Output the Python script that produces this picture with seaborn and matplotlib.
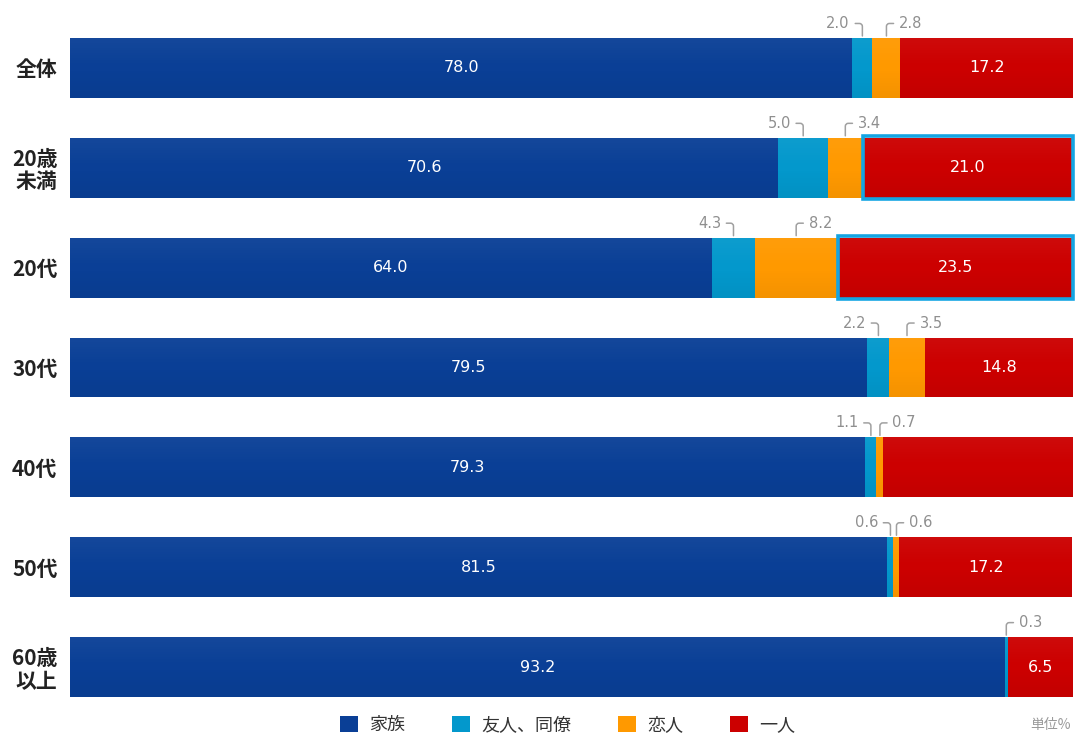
import numpy as np
import pandas as pd
import matplotlib.pyplot as plt
import seaborn as sns
from matplotlib.patches import Rectangle, Patch

## data (unit: %)
groups = ["全体", "20歳\n未満", "20代", "30代", "40代", "50代", "60歳\n以上"]
kazoku = [78.0, 70.6, 64.0, 79.5, 79.3, 81.5, 93.2]
yujin = [2.0, 5.0, 4.3, 2.2, 1.1, 0.6, 0.3]
koibito = [2.8, 3.4, 8.2, 3.5, 0.7, 0.6, 0.0]
hitori = [17.2, 21.0, 23.5, 14.8, 18.9, 17.2, 6.5]
hitori_label = ["17.2", "21.0", "23.5", "14.8", "", "17.2", "6.5"]
highlight = ["20歳\n未満", "20代"]
series = ["家族", "友人、同僚", "恋人", "一人"]
colors = ["#0a3f96", "#0398cc", "#ff9900", "#cc0000"]

df = pd.DataFrame({"group": groups, "家族": kazoku, "友人": yujin, "恋人": koibito, "一人": hitori})
df["c1"] = df["家族"]
df["c2"] = df["c1"] + df["友人"]
df["c3"] = df["c2"] + df["恋人"]
df["c4"] = df["c3"] + df["一人"]

sns.set_theme(style="white")
plt.rcParams['font.family'] = ['Noto Sans CJK JP', 'DejaVu Sans']

fig = plt.figure(figsize=(10.77, 7.38), dpi=100)
ax = fig.add_axes([70/1077, 21/738, 1003/1077, 699/738])

# stacked bars: draw cumulative totals from the longest to the shortest
for col, color in zip(["c4", "c3", "c2", "c1"], colors[::-1]):
    sns.barplot(data=df, x=col, y="group", color=color, orient="h", width=0.6,
                saturation=1, edgecolor="none", ax=ax)

# soft vertical shading on each bar (light top, darker bottom)
shade = np.zeros((40, 1, 4))
t = np.linspace(0, 1, 40)
shade[:, 0, :3] = np.where(t[:, None] < 0.5, 1.0, 0.0)
shade[:, 0, 3] = np.abs(t - 0.5) * 0.09
for i, row in df.iterrows():
    ax.imshow(shade, extent=(0, row["c4"], i + 0.3, i - 0.3), aspect="auto",
              zorder=3, interpolation="bilinear")

ax.set_xlim(0, 100)
ax.set_ylim(6.5, -0.5)
ax.set_xlabel("")
ax.set_ylabel("")
ax.set_xticks([])
sns.despine(ax=ax, left=True, bottom=True)
ax.tick_params(axis="y", length=0, pad=9)
for lab in ax.get_yticklabels():
    lab.set_fontsize(15)
    lab.set_fontweight("bold")
    lab.set_color("#222222")
    lab.set_linespacing(1.1)

gray = "#8f8f8f"

def small_label(x, y, txt, side):
    if side == "left":
        off, ha, rp = -9, "right", (1, 0.5)
        cs = "angle,angleA=0,angleB=90,rad=3"
    else:
        off, ha, rp = 9, "left", (0, 0.5)
        cs = "angle,angleA=180,angleB=90,rad=3"
    ax.annotate(txt, xy=(x, y - 0.32), xytext=(off, 9), textcoords="offset points",
                ha=ha, va="center", fontsize=10.5, color=gray, family="DejaVu Sans",
                arrowprops=dict(arrowstyle="-", color="#a0a0a0", lw=1.1, shrinkA=1.5,
                                shrinkB=0, relpos=rp, connectionstyle=cs))

for i, row in df.iterrows():
    ax.text(row["c1"] / 2, i, f"{row['家族']:.1f}", ha="center", va="center",
            color="white", fontsize=11.5, family="DejaVu Sans", zorder=6)
    if hitori_label[i]:
        ax.text((row["c3"] + row["c4"]) / 2, i, hitori_label[i], ha="center", va="center",
                color="white", fontsize=11.5, family="DejaVu Sans", zorder=6)
    if row["友人"] > 0:
        side = "left" if row["恋人"] > 0 else "right"
        small_label((row["c1"] + row["c2"]) / 2, i, f"{row['友人']:.1f}", side)
    if row["恋人"] > 0:
        small_label((row["c2"] + row["c3"]) / 2, i, f"{row['恋人']:.1f}", "right")
    if row["group"] in highlight:
        ax.add_patch(Rectangle((row["c3"] + 0.1, i - 0.315), row["一人"] - 0.1, 0.63,
                               fill=False, edgecolor="#14a5e3", lw=2.6, zorder=5, clip_on=False))

handles = [Patch(facecolor=c, edgecolor="none") for c in colors]
leg = fig.legend(handles, series, loc="center", bbox_to_anchor=(0.527, 0.018), ncol=4,
                 frameon=False, fontsize=13, handlelength=1.0, handleheight=1.0,
                 handletextpad=0.6, columnspacing=2.6)
for txt in leg.get_texts():
    txt.set_color("#333333")
fig.text(1071/1077, 0.018, "単位%", ha="right", va="center", fontsize=10, color="#999999")

fig.savefig("out.png", dpi=100)
